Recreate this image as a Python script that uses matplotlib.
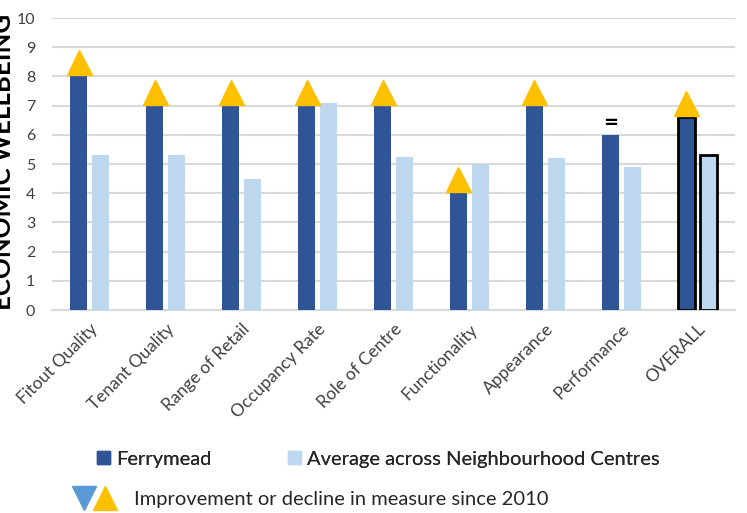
import numpy as np
import matplotlib
matplotlib.use("Agg")
import matplotlib.pyplot as plt
from matplotlib.patches import Patch
from matplotlib.lines import Line2D
from matplotlib.legend_handler import HandlerTuple

plt.rcParams["font.family"] = ["Lato", "DejaVu Sans"]

categories = ["Fitout Quality", "Tenant Quality", "Range of Retail",
              "Occupancy Rate", "Role of Centre", "Functionality",
              "Appearance", "Performance", "OVERALL"]
ferrymead = [8, 7, 7, 7, 7, 4, 7, 6, 6.6]
average = [5.3, 5.3, 4.5, 7.1, 5.25, 5.0, 5.2, 4.9, 5.3]
# change since 2010: "up" = improvement, "same" = no change
change = ["up", "up", "up", "up", "up", "up", "up", "same", "up"]

DARK = "#2F5597"
LIGHT = "#BDD7EE"
YELLOW = "#FFC000"
BLUE_TRI = "#5B9BD5"

fig = plt.figure(figsize=(7.47, 5.13), dpi=100)
ax = fig.add_axes([0.0696, 0.3957, 0.9144, 0.569])

x = np.arange(len(categories))
w = 0.225
off = 0.145
edge = ["none"] * (len(categories) - 1) + ["black"]
lw = [0] * (len(categories) - 1) + [2]
ax.bar(x - off, ferrymead, w, color=DARK, edgecolor=edge, linewidth=lw, zorder=3)
ax.bar(x + off, average, w, color=LIGHT, edgecolor=edge, linewidth=lw, zorder=3)

for xi, v, c in zip(x, ferrymead, change):
    if c == "up":
        ax.plot(xi - off, v + 0.48, marker="^", markersize=18, color=YELLOW,
                linestyle="none", zorder=4, clip_on=False)
    else:
        ax.text(xi - off, v + 0.1, "=", ha="center", va="bottom",
                fontsize=13, fontweight="bold", family="DejaVu Sans", zorder=4)

ax.set_xlim(-0.5, len(categories) - 0.5)
ax.set_ylim(0, 10)
ax.set_yticks(range(0, 11))
ax.yaxis.grid(True, color="#D9D9D9", linewidth=1.5, zorder=0)
for s in ["top", "right", "left"]:
    ax.spines[s].set_visible(False)
ax.spines["bottom"].set_color("#D9D9D9")
ax.spines["bottom"].set_linewidth(1.5)
ax.tick_params(axis="both", length=0, colors="#404040")
ax.tick_params(axis="y", pad=12, labelsize=11.5)
ax.set_xticks(x)
ax.set_xticklabels(categories, rotation=45, ha="right", rotation_mode="anchor")
ax.tick_params(axis="x", pad=8, labelsize=12.5)

fig.text(15 / 747, 0.685, "ECONOMIC WELLBEING", rotation=90, ha="right",
         va="center", fontsize=18.5, fontweight="bold", color="black")

h1 = [Patch(color=DARK), Patch(color=LIGHT)]
leg1 = fig.legend(h1, ["Ferrymead", "Average across Neighbourhood Centres"],
                  ncol=2, loc="center left", bbox_to_anchor=(97 / 747, 0.105),
                  frameon=False, fontsize=14.5, borderpad=0, borderaxespad=0,
                  handlelength=0.65, handleheight=0.65, handletextpad=0.3,
                  columnspacing=3.8, labelcolor="#262626")
tri = (Line2D([], [], marker="v", color=BLUE_TRI, markersize=17, linestyle="none"),
       Line2D([], [], marker="^", color=YELLOW, markersize=17, linestyle="none"))
leg2 = fig.legend([tri], ["Improvement or decline in measure since 2010"],
                  handler_map={tuple: HandlerTuple(ndivide=None, pad=-0.1)},
                  loc="center left", bbox_to_anchor=(73 / 747, 0.027),
                  frameon=False, fontsize=14.5, borderpad=0, borderaxespad=0,
                  handlelength=2.14, handletextpad=0.9, labelcolor="#262626")
fig.add_artist(leg1)

fig.savefig("out.png", dpi=100)
